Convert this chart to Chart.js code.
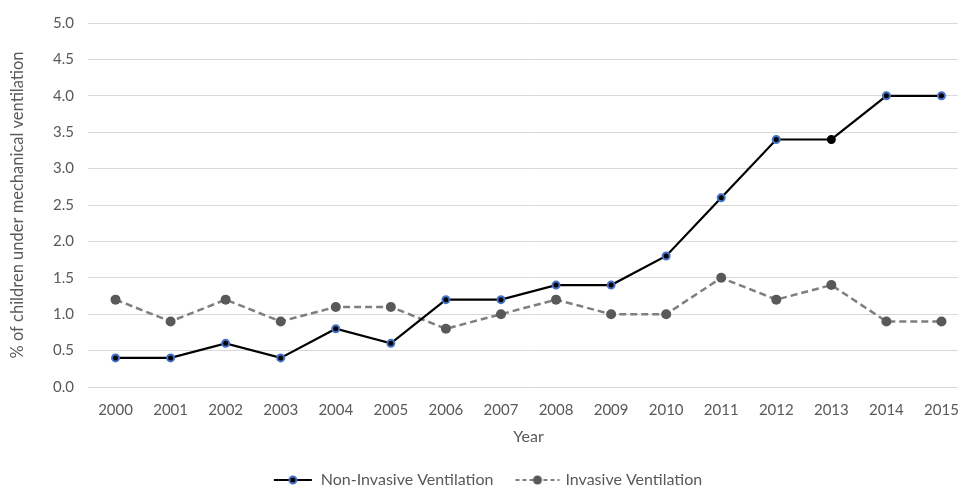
<!DOCTYPE html>
<html>
<head>
<meta charset="utf-8">
<script src="https://cdn.jsdelivr.net/npm/chart.js@4"></script>
<style>
    html, body { margin: 0; padding: 0; background: #fff; overflow: hidden; }
    #wrap { width: 975px; height: 498px; }
</style>
</head>
<body>
<div id="wrap"><canvas id="chart"></canvas></div>
<script>
// Data
const years = ['2000', '2001', '2002', '2003', '2004', '2005', '2006', '2007',
    '2008', '2009', '2010', '2011', '2012', '2013', '2014', '2015'];
const nonInvasive = [0.4, 0.4, 0.6, 0.4, 0.8, 0.6, 1.2, 1.2, 1.4, 1.4, 1.8, 2.6, 3.4, 3.4, 4.0, 4.0];
const invasive = [1.2, 0.9, 1.2, 0.9, 1.1, 1.1, 0.8, 1.0, 1.2, 1.0, 1.0, 1.5, 1.2, 1.4, 0.9, 0.9];

const FONT = 'Lato, "Open Sans", sans-serif';
const TEXT = '#595959';

// the 2013 point of the non-invasive series has no blue ring
const niBorder = years.map(y => y === '2013' ? '#000000' : '#4472c4');

// small canvases for the legend: line + marker
function legendIcon(w, color, dash, dotFill, dotStroke, r) {
    const c = document.createElement('canvas');
    c.width = w; c.height = 14;
    const g = c.getContext('2d');
    g.strokeStyle = color;
    g.lineWidth = 2.2;
    g.setLineDash(dash);
    g.beginPath(); g.moveTo(1, 7); g.lineTo(w - 1, 7); g.stroke();
    g.setLineDash([]);
    g.beginPath(); g.arc(w / 2, 7, r, 0, Math.PI * 2);
    g.fillStyle = dotFill; g.fill();
    if (dotStroke) { g.lineWidth = 2; g.strokeStyle = dotStroke; g.stroke(); }
    return c;
}
const iconNI = legendIcon(40, '#000000', [], '#000000', '#4472c4', 3.5);
const iconIV = legendIcon(46, '#7f7f7f', [4, 3], '#595959', null, 4.5);

new Chart(document.getElementById('chart').getContext('2d'), {
    type: 'line',
    data: {
        labels: years,
        datasets: [{
            label: 'Non-Invasive Ventilation',
            data: nonInvasive,
            borderColor: '#000000',
            borderWidth: 2.2,
            pointRadius: 3.5,
            pointBackgroundColor: '#000000',
            pointBorderColor: niBorder,
            pointBorderWidth: 2,
            pointStyle: 'circle',
            tension: 0
        }, {
            label: 'Invasive Ventilation',
            data: invasive,
            borderColor: '#7f7f7f',
            borderWidth: 2.5,
            borderDash: [7, 4],
            pointRadius: 5,
            pointBackgroundColor: '#595959',
            pointBorderColor: '#595959',
            pointBorderWidth: 0,
            tension: 0
        }]
    },
    options: {
        responsive: true,
        maintainAspectRatio: false,
        animation: false,
        layout: { padding: { top: 22, left: 0, right: 0, bottom: 0 } },
        scales: {
            x: {
                offset: true,
                grid: { display: false },
                border: { display: false },
                ticks: { color: TEXT, font: { family: FONT, size: 15 }, padding: 6, maxRotation: 0 },
                title: { display: true, text: 'Year', color: TEXT, font: { family: FONT, size: 16 }, padding: { top: 6, bottom: 2 } },
                afterFit: s => { s.height = 61; }
            },
            y: {
                min: 0,
                max: 5,
                ticks: {
                    stepSize: 0.5,
                    color: TEXT,
                    font: { family: FONT, size: 15 },
                    padding: 14,
                    callback: v => v.toFixed(1)
                },
                grid: { color: '#d9d9d9', lineWidth: 1, drawTicks: false },
                border: { display: false },
                title: {
                    display: true,
                    text: '% of children under mechanical ventilation',
                    color: TEXT,
                    font: { family: FONT, size: 16.5 },
                    padding: { top: 8, bottom: 4 }
                },
                afterFit: s => { s.width = 88; }
            }
        },
        plugins: {
            legend: {
                position: 'bottom',
                labels: {
                    usePointStyle: true,
                    pointStyleWidth: 40,
                    color: TEXT,
                    font: { family: FONT, size: 16 },
                    padding: 24,
                    generateLabels: chart => chart.data.datasets.map((ds, i) => ({
                        text: ds.label,
                        pointStyle: i === 0 ? iconNI : iconIV,
                        fontColor: TEXT,
                        datasetIndex: i,
                        lineWidth: 0,
                        strokeStyle: 'transparent',
                        fillStyle: 'transparent'
                    }))
                }
            },
            tooltip: { enabled: false }
        }
    }
});
</script>
</body>
</html>
